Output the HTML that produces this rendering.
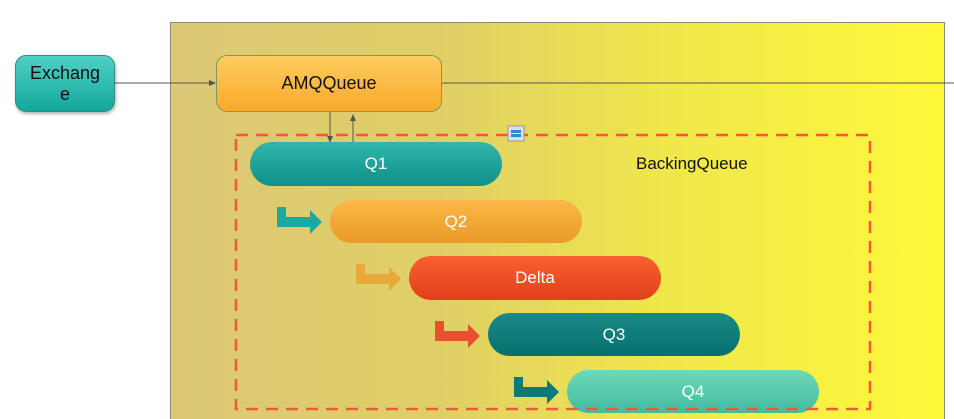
<!DOCTYPE html>
<html><head><meta charset="utf-8"><style>
html,body{margin:0;width:954px;height:419px;overflow:hidden;background:#fff;position:relative;font-family:"Liberation Sans",sans-serif}
.a{position:absolute;box-sizing:border-box}
.outer{left:170px;top:22px;width:775px;height:398px;border:1px solid #8a8a7a;background:linear-gradient(to right,#dcc876 0%,#e0cf66 35%,#f0e84a 65%,#fff83a 100%)}
.pill{height:44px;border-radius:22px;color:#fff;font-size:17px;text-align:center;line-height:44px;width:252px}
.n{display:flex;align-items:center;justify-content:center;text-align:center;color:#111;border-radius:11px}
</style></head><body>
<div class="a outer"></div>
<svg class="a" style="left:0;top:0" width="954" height="419">
<line x1="115" y1="83" x2="212" y2="83" stroke="#555" stroke-width="1"/>
<polygon points="216,83 209,80 209,86" fill="#555"/>
<line x1="442" y1="83" x2="954" y2="83" stroke="#555" stroke-width="1"/>
</svg>
<div class="a n" style="left:15px;top:55px;width:100px;height:57px;background:linear-gradient(#4fd0c4,#14a89c);border:1px solid #2a8f86;font-size:18px;line-height:21px;box-shadow:1px 2px 3px rgba(0,0,0,.3)">Exchang<br>e</div>
<div class="a n" style="left:216px;top:55px;width:226px;height:57px;background:linear-gradient(#ffcd60,#f9a92a);border:1px solid #7a9a60;font-size:18px">AMQQueue</div>
<div class="a pill" style="left:250px;top:142px;background:linear-gradient(#30b6ac,#10908a)">Q1</div>
<div class="a pill" style="left:330px;top:200px;background:linear-gradient(#fbb848,#eb9a28);height:43px">Q2</div>
<div class="a pill" style="left:409px;top:256px;background:linear-gradient(#fa6030,#e0401a)">Delta</div>
<div class="a pill" style="left:488px;top:313px;background:linear-gradient(#1a8a88,#06706c);height:43px">Q3</div>
<div class="a pill" style="left:567px;top:370px;background:linear-gradient(#70d8b8,#40bca0);height:43px">Q4</div>
<svg class="a" style="left:0;top:0" width="954" height="419">
<defs><path id="ar" d="M0,0 h9 v10 h24 v-7 l12,12 l-12,12 v-7 h-33 z"/></defs>
<line x1="330" y1="112" x2="330" y2="138" stroke="#555"/><polygon points="330,143 327,136 333,136" fill="#555"/>
<line x1="353" y1="142" x2="353" y2="119" stroke="#555"/><polygon points="353,114 350,121 356,121" fill="#555"/>
<rect x="236" y="135" width="634" height="274" fill="none" stroke="#f05a3a" stroke-width="2.5" stroke-dasharray="12,8"/>
<rect x="508" y="126" width="16" height="15" fill="#dde" stroke="#999"/><rect x="511" y="130" width="10" height="3" fill="#2a8ad0"/><rect x="511" y="134" width="10" height="3" fill="#2a8ad0"/>
<use href="#ar" x="277" y="207" fill="#1fa8a0"/>
<use href="#ar" x="356" y="264" fill="#eaa838"/>
<use href="#ar" x="435" y="321" fill="#e85030"/>
<use href="#ar" x="514" y="377" fill="#0e7a78"/>
</svg>
<div class="a" style="left:636px;top:154px;font-size:17px;color:#111">BackingQueue</div>
</body></html>
